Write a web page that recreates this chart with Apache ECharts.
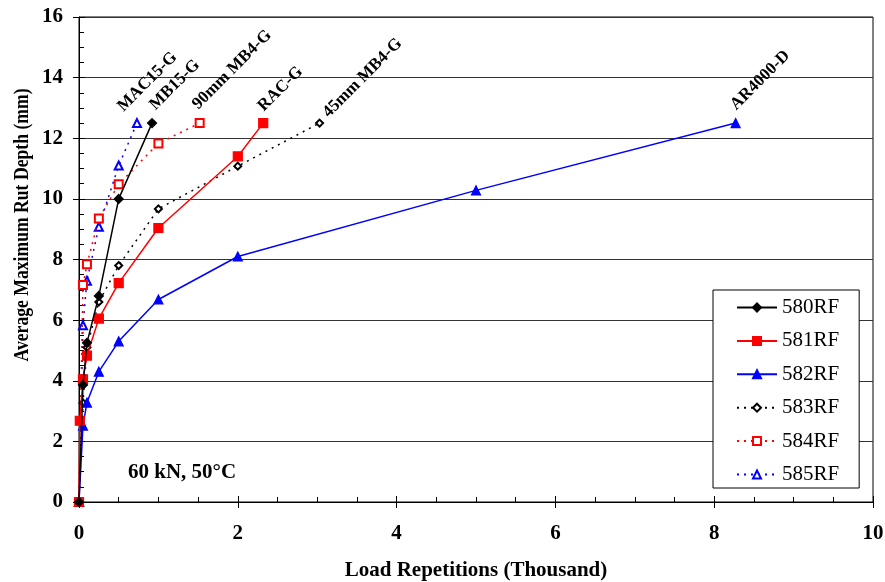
<!DOCTYPE html>
<html>
<head>
<meta charset="utf-8">
<script src="https://cdn.jsdelivr.net/npm/echarts@6/dist/echarts.min.js"></script>
<style>
  html, body { margin: 0; padding: 0; background: #fff; }
  #chart { width: 885px; height: 582px; }
</style>
</head>
<body>
<div id="chart"></div>
<script>
// load repetitions (thousand) and average max rut depth (mm)
const load580 = [0, 0.05, 0.1, 0.25, 0.5, 0.92];
const rut580 = [0, 3.86, 5.25, 6.8, 10.0, 12.5];
const load581 = [0, 0.01, 0.05, 0.1, 0.25, 0.5, 1, 2, 2.32];
const rut581 = [0, 2.68, 4.05, 4.83, 6.05, 7.22, 9.04, 11.4, 12.5];
const load582 = [0, 0.05, 0.1, 0.25, 0.5, 1, 2, 5, 8.27];
const rut582 = [0, 2.52, 3.28, 4.3, 5.3, 6.68, 8.1, 10.28, 12.5];
const load583 = [0, 0.05, 0.1, 0.25, 0.5, 1, 2, 3.03];
const rut583 = [0, 3.27, 5.1, 6.6, 7.8, 9.67, 11.08, 12.5];
const load584 = [0, 0.05, 0.1, 0.25, 0.5, 1, 1.52];
const rut584 = [0, 7.16, 7.84, 9.35, 10.48, 11.83, 12.5];
const load585 = [0, 0.05, 0.1, 0.25, 0.5, 0.73];
const rut585 = [0, 5.83, 7.3, 9.08, 11.1, 12.5];

const sectionNames = ['580RF', '581RF', '582RF', '583RF', '584RF', '585RF'];
const mixNames = ['MB15-G', 'RAC-G', 'AR4000-D', '45mm MB4-G', '90mm MB4-G', 'MAC15-G'];
const xTicks = [0, 2, 4, 6, 8, 10];
const yTicks = [0, 2, 4, 6, 8, 10, 12, 14, 16];

const loads = [load580, load581, load582, load583, load584, load585];
const ruts = [rut580, rut581, rut582, rut583, rut584, rut585];

const FONT = '"Liberation Serif", "Times New Roman", serif';

// style for each section (off = label offset, in the rotated label frame)
const styles = [
  {color: '#000000', symbol: 'diamond', size: 9, dash: 'solid', off: [5, 4]},
  {color: '#ff0000', symbol: 'rect', size: 9, dash: 'solid', off: [2, 3]},
  {color: '#0000ff', symbol: 'triangle', size: 9, dash: 'solid', off: [3, 2]},
  {color: '#000000', symbol: 'emptyDiamond', size: 7, dash: [2, 5], off: [4, 13]},
  {color: '#ff0000', symbol: 'emptyRect', size: 8, dash: [2, 5], off: [2, 0]},
  {color: '#0000ff', symbol: 'emptyTriangle', size: 8, dash: [2, 5], off: [-8, -7]}
];

const series = sectionNames.map((name, i) => {
  const st = styles[i];
  const data = loads[i].map((x, j) => {
    const item = {value: [x, ruts[i][j]]};
    if (j === loads[i].length - 1) {
      item.label = {
        show: true,
        formatter: mixNames[i],
        position: 'top',
        distance: 4,
        rotate: 45,
        align: 'left',
        verticalAlign: 'bottom',
        offset: st.off,
        color: '#000',
        fontFamily: FONT,
        fontWeight: 'bold',
        fontSize: 17
      };
    }
    return item;
  });
  return {
    name: name,
    type: 'line',
    xAxisIndex: 0,
    yAxisIndex: 0,
    data: data,
    symbol: st.symbol,
    symbolSize: st.size,
    showAllSymbol: true,
    color: st.color,
    itemStyle: {color: st.color, borderColor: st.color, borderWidth: 1.2},
    lineStyle: {color: st.color, width: 1.5, type: st.dash},
    emphasis: {disabled: true},
    animation: false,
    z: 10 - i
  };
});

const chart = echarts.init(document.getElementById('chart'));
const option = {
  animation: false,
  grid: {
    left: 79, right: 12, top: 17, bottom: 80,
    outerBoundsMode: 'none',
    show: true, borderColor: '#000', borderWidth: 1
  },
  legend: {
    orient: 'vertical',
    left: 713,
    top: 290,
    data: sectionNames,
    itemWidth: 40,
    itemHeight: 10,
    itemGap: 12.4,
    padding: [7, 20, 3, 23],
    borderColor: '#000',
    borderWidth: 1,
    backgroundColor: '#fff',
    selectedMode: false,
    textStyle: {fontFamily: FONT, fontSize: 21, color: '#000', lineHeight: 20}
  },
  xAxis: [
    {
      type: 'value',
      min: xTicks[0],
      max: xTicks[xTicks.length - 1],
      interval: 2,
      name: 'Load Repetitions (Thousand)',
      nameLocation: 'middle',
      nameGap: 58,
      nameTextStyle: {fontFamily: FONT, fontWeight: 'bold', fontSize: 21, color: '#000'},
      axisLine: {onZero: false, lineStyle: {color: '#000', width: 1}},
      axisTick: {inside: true, length: 6, lineStyle: {color: '#000'}},
      minorTick: {show: true, splitNumber: 4, length: 5, lineStyle: {color: '#000'}},
      splitLine: {show: false},
      axisLabel: {margin: 21, fontFamily: FONT, fontWeight: 'bold', fontSize: 21, color: '#000'}
    },
    {
      type: 'value',
      min: xTicks[0],
      max: xTicks[xTicks.length - 1],
      interval: 2,
      position: 'bottom',
      axisLine: {show: false, onZero: false},
      axisTick: {inside: false, length: 6, lineStyle: {color: '#000'}},
      splitLine: {show: false},
      axisLabel: {show: false}
    }
  ],
  yAxis: [
    {
      type: 'value',
      min: yTicks[0],
      max: yTicks[yTicks.length - 1],
      interval: 2,
      axisLine: {onZero: false, lineStyle: {color: '#000', width: 1}},
      axisTick: {inside: true, length: 6, lineStyle: {color: '#000'}},
      minorTick: {show: true, splitNumber: 4, length: 5, lineStyle: {color: '#000'}},
      splitLine: {show: true, lineStyle: {color: '#333', width: 1}},
      axisLabel: {margin: 16, fontFamily: FONT, fontWeight: 'bold', fontSize: 21, color: '#000'}
    },
    {
      type: 'value',
      min: yTicks[0],
      max: yTicks[yTicks.length - 1],
      interval: 2,
      position: 'left',
      axisLine: {show: false, onZero: false},
      axisTick: {inside: false, length: 6, lineStyle: {color: '#000'}},
      splitLine: {show: false},
      axisLabel: {show: false}
    }
  ],
  graphic: [
    {
      type: 'text',
      x: 23,
      y: 225,
      rotation: Math.PI / 2,
      scaleX: 0.84,
      style: {
        text: 'Average Maximum Rut Depth (mm)',
        fontFamily: FONT, fontWeight: 'bold', fontSize: 21, fill: '#000',
        align: 'center', verticalAlign: 'middle'
      }
    },
    {
      type: 'text',
      x: 128,
      y: 473,
      style: {
        text: '60 kN, 50°C',
        fontFamily: FONT, fontWeight: 'bold', fontSize: 21, fill: '#000',
        align: 'left', verticalAlign: 'middle'
      }
    }
  ],
  series: series
};
chart.setOption(option);

window.addEventListener('resize', () => {
  chart.resize();
});
</script>
</body>
</html>
